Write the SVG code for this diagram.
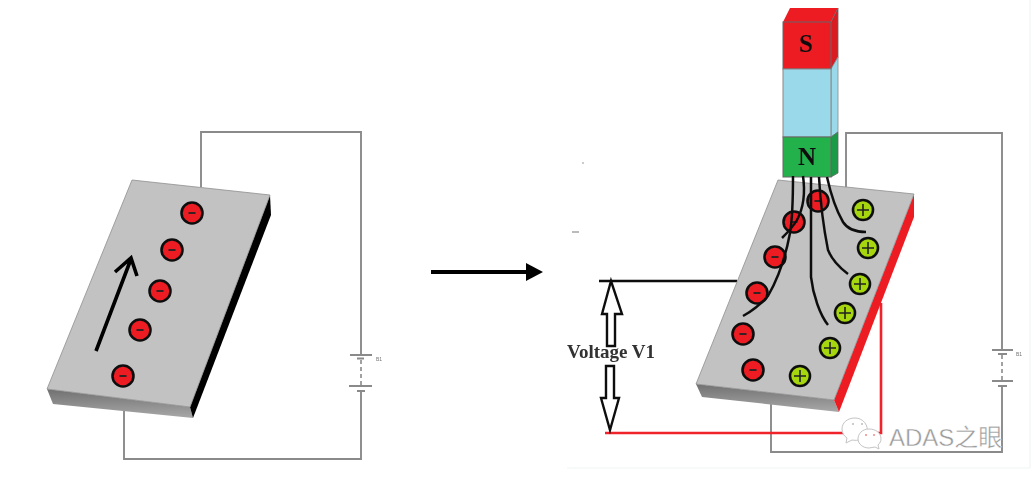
<svg xmlns="http://www.w3.org/2000/svg" width="1034" height="481" viewBox="0 0 1034 481">
<defs>
<filter id="soft" x="-5%" y="-5%" width="110%" height="110%"><feGaussianBlur stdDeviation="0.7"/></filter>
<linearGradient id="front" x1="0" y1="0" x2="0" y2="1"><stop offset="0" stop-color="#707070"/><stop offset="1" stop-color="#a8a8a8"/></linearGradient>
<g id="minus"><circle r="10.500" fill="#ed1c24" stroke="#111" stroke-width="2.600"/><path d="M-3.500 0H3.500" stroke="#222" stroke-width="1.800"/></g>
<g id="plus"><circle r="10" fill="#a6d60e" stroke="#111" stroke-width="2.600"/><path d="M-6 0H6M0-6V6" stroke="#222" stroke-width="1.600"/></g>
</defs>
<style>
.wire{fill:none;stroke:#8a8a8a;stroke-width:1.900}
.dash{fill:none;stroke:#8a8a8a;stroke-width:1.600;stroke-dasharray:4 3}
.field{fill:none;stroke:#111;stroke-width:2.500}
.plate{fill:#c2c2c2;stroke:#8f8f8f;stroke-width:.8}
.hollow{fill:#fff;stroke:#111;stroke-width:2.400}
.pole{font:bold 25px "Liberation Serif",serif;fill:#111;text-anchor:middle}
.bubble{fill:#fff;stroke:#c4c4c4;stroke-width:1}
.tiny{font:5px "Liberation Sans",sans-serif;fill:#777}
</style>
<rect width="1034" height="481" fill="#fff"/>
<g filter="url(#soft)">
<path d="M567 468H1030M1030 0V468" fill="none" stroke="#eef6f4" stroke-width="1.200"/>
<circle cx="583" cy="163" r="1" fill="#bbb"/>
<rect x="572" y="231" width="7" height="2" fill="#bbb"/>
<g id="connectors">
<path class="wire" d="M201 187V132H361V355M361 391V459H124V403"/>
<path class="wire" d="M350 355H372M357 358.500H364"/>
<path class="dash" d="M361 360V386"/>
<path class="wire" d="M349 386H372M357 391H365"/>
<path class="wire" d="M846 187V133H1002V350M1002 386V452H771V398"/>
<path class="wire" d="M992 350H1013M998 354H1007M992 381H1013M998 386H1007"/>
<path class="dash" d="M1002 355V381"/>
<path d="M599 281H737" fill="none" stroke="#111" stroke-width="2.600"/>
<path d="M605 433H881V303" fill="none" stroke="#f0202c" stroke-width="2.600"/>
<path d="M431 272H528" fill="none" stroke="#000" stroke-width="4"/>
<path d="M526 263L543 272L526 281Z" fill="#000"/>
</g>
<text class="tiny" x="376" y="361">B1</text>
<text class="tiny" x="1016" y="356">B1</text>
<g id="plate-left">
<path d="M47 389L190 407L193 418L53 404Z" fill="url(#front)"/>
<path d="M190 407L270 195L271 215L193 418Z" fill="#000"/>
<path class="plate" d="M132 180L270 195L190 407L47 389Z"/>
<use href="#minus" x="192" y="213"/>
<use href="#minus" x="172" y="250"/>
<use href="#minus" x="160" y="291"/>
<use href="#minus" x="140" y="330"/>
<use href="#minus" x="123" y="376"/>
<path d="M96 351L131 259M115 272L131 258L137 276" fill="none" stroke="#000" stroke-width="3.600"/>
</g>
<g id="plate-right">
<path d="M696 384L834 400L839 412L702 397Z" fill="url(#front)"/>
<path d="M834 400L914 194L914 217L839 412Z" fill="#ed1c24"/>
<path class="plate" d="M778 180L914 194L834 400L696 384Z"/>
<use href="#minus" x="818" y="201"/>
<use href="#minus" x="794" y="222"/>
<use href="#minus" x="775" y="257"/>
<use href="#minus" x="757" y="293"/>
<use href="#minus" x="743" y="334"/>
<use href="#minus" x="753" y="370"/>
<use href="#plus" x="863" y="210"/>
<use href="#plus" x="868" y="248"/>
<use href="#plus" x="860" y="284"/>
<use href="#plus" x="845" y="313"/>
<use href="#plus" x="830" y="348"/>
<use href="#plus" x="800" y="376"/>
</g>
<g id="magnet">
<path d="M783 22L790 8H838L831 22Z" fill="#ed1c24"/>
<path d="M831 22L838 8V57L831 69Z" fill="#d81a22" stroke="#666" stroke-width=".8"/>
<path d="M831 69L838 57V132L831 137Z" fill="#9ad9ea" stroke="#888" stroke-width=".8"/>
<path d="M831 137L838 132V173L831 177Z" fill="#1c9a47" stroke="#666" stroke-width=".8"/>
<rect x="783" y="22" width="48" height="47" fill="#ed1c24" stroke="#666"/>
<rect x="783" y="69" width="48" height="68" fill="#9ad9ea" stroke="#888"/>
<rect x="783" y="137" width="48" height="40" fill="#22b14c" stroke="#666"/>
<text class="pole" x="806" y="52">S</text>
<text class="pole" x="807" y="165">N</text>
</g>
<g id="field-lines">
<path class="field" d="M793 176C793 195 793 215 790 233C786 255 780 275 768 296C760 305 752 311 743 316"/>
<path class="field" d="M803 176C805 190 805 205 797 220C793 227 788 232 782 238"/>
<path class="field" d="M811 177C811 210 811 250 811 277C813 295 820 315 828 325"/>
<path class="field" d="M819 177C820 195 823 225 828 250C832 260 840 268 848 274"/>
<path class="field" d="M827 177C831 195 836 210 843 222C848 230 856 232 866 232"/>
</g>
<g id="voltage">
<path class="hollow" d="M611 281L622 314H615V346H607V314H602Z"/>
<path class="hollow" d="M606 366H614V398H619L610 430L601 398H606Z"/>
<text x="611" y="358" font-size="19" font-weight="bold" text-anchor="middle" fill="#333" style="font-family:'Liberation Serif',serif">Voltage V1</text>
</g>
</g>
<g id="watermark">
<path class="bubble" d="M855 418C847 418 842 423 842 429C842 433 844 436 847 438L846 443L852 440C858 441 864 440 867 434C869 425 863 418 855 418Z"/>
<path class="bubble" d="M869 429C862 429 858 434 858 439C858 444 863 448 869 448C871 448 873 447 875 447L879 449L878 445C880 443 881 441 881 439C881 433 876 429 869 429Z"/>
<circle cx="853" cy="424" r="1" fill="#bbb"/><circle cx="862" cy="424" r="1" fill="#bbb"/>
<circle cx="866" cy="435" r="1" fill="#e88"/><circle cx="874" cy="435" r="1" fill="#e88"/>
<text x="889" y="446" font-size="24" fill="#9a9a9a" stroke="#fff" stroke-width=".4" style="font-family:'Liberation Sans','Noto Sans CJK SC',sans-serif">ADAS之眼</text>
</g>
</svg>
